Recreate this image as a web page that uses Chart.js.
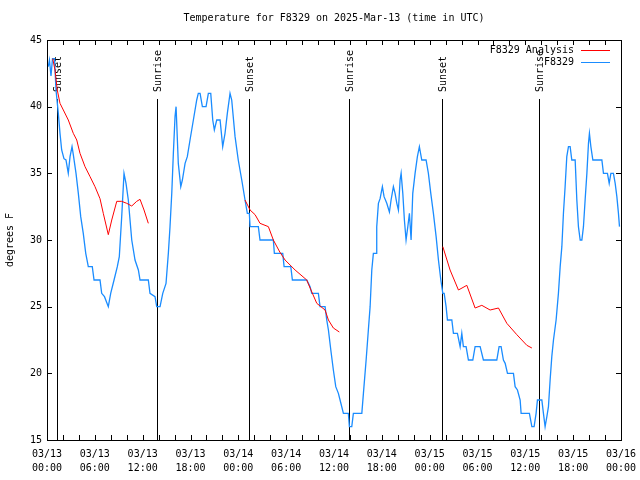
<!DOCTYPE html>
<html>
<head>
<meta charset="utf-8">
<title>Temperature for F8329</title>
<script src="https://cdn.jsdelivr.net/npm/chart.js@4.4.1/dist/chart.umd.min.js"></script>
<style>
  body { margin: 0; background: #fff; }
  canvas { display: block; }
</style>
</head>
<body>
<canvas id="tempChart" width="640" height="480"></canvas>
<script>
// Hours since 03/13 00:00 UTC
const obsHours = [0.16, 0.31, 0.5, 0.69, 0.94, 1.13, 1.42, 1.63, 1.84, 2.13, 2.38, 2.67, 2.89, 3.14, 3.3, 3.64, 3.93, 4.23, 4.55, 4.86,
  5.18, 5.68, 5.9, 6.65, 6.86, 7.21, 7.69, 7.99, 8.41, 8.82, 9.07, 9.37, 9.66, 9.91, 10.2, 10.63, 11.04, 11.46, 11.67, 12.71,
  12.92, 13.55, 13.76, 14.18, 14.52, 14.93, 15.22, 15.43, 15.65, 15.85, 16.06, 16.19, 16.47, 16.78, 16.98, 17.32, 17.6, 17.94, 18.36, 18.78,
  18.98, 19.2, 19.49, 19.95, 20.24, 20.54, 20.79, 20.99, 21.29, 21.71, 22.04, 22.33, 22.62, 22.96, 23.17, 23.59, 23.99, 24.43, 24.84, 25.13,
  25.38, 25.47, 26.51, 26.72, 28.39, 28.52, 29.57, 29.74, 30.58, 30.78, 32.58, 33.0, 33.21, 34.04, 34.25, 34.88, 35.09, 35.3, 35.6, 35.92,
  36.22, 36.55, 36.76, 37.18, 37.8, 37.93, 38.23, 38.43, 39.49, 39.69, 40.03, 40.31, 40.53, 40.74, 40.94, 41.28, 41.36, 41.57, 41.78, 42.07,
  42.28, 42.62, 42.95, 43.16, 43.45, 43.66, 43.88, 44.08, 44.29, 44.42, 44.63, 44.83, 45.04, 45.26, 45.46, 45.67, 45.88, 46.17, 46.46, 46.71,
  47.01, 47.55, 47.84, 48.14, 48.47, 48.81, 49.1, 49.4, 49.65, 49.82, 50.06, 50.23, 50.78, 50.98, 51.48, 51.82, 52.03, 52.23, 52.57, 52.86,
  53.41, 53.7, 54.33, 54.74, 56.42, 56.71, 56.96, 57.25, 57.47, 57.76, 58.51, 58.72, 59.01, 59.35, 59.47, 60.51, 60.82, 61.1, 61.35, 61.52,
  62.07, 62.27, 62.48, 62.7, 62.9, 63.11, 63.32, 63.53, 63.86, 64.15, 64.37, 64.58, 64.78, 64.99, 65.2, 65.41, 65.62, 65.83, 66.25, 66.46,
  66.66, 66.88, 67.09, 67.29, 67.5, 67.72, 67.92, 68.04, 68.22, 68.47, 69.6, 69.8, 70.3, 70.52, 70.73, 71.05, 71.27, 71.48, 71.68, 71.81];
const obsTemps = [43.0, 43.5, 42.3, 43.6, 43.6, 41.25, 39.5, 38, 36.75, 36.1, 36, 35, 36.25, 37, 36.4, 35, 33.5, 31.75, 30.5, 29,
  28, 28, 27, 27, 26, 25.75, 25, 26, 27, 28, 28.75, 31.75, 35, 34.25, 33, 30, 28.5, 27.75, 27, 27,
  26, 25.75, 25, 25, 26, 26.75, 29, 31, 33.5, 36.5, 39.25, 40, 35.75, 34, 34.5, 35.75, 36.25, 37.5, 39, 40.5,
  41, 41, 40, 40, 41, 41, 39, 38.25, 39, 39, 37, 38, 39.5, 41, 40.5, 37.75, 36, 34.5, 33, 32,
  32, 31, 31, 30, 30, 29, 29, 28, 28, 27, 27, 26.5, 26, 26, 25, 25, 24, 23.25, 21.75, 20.25,
  19, 18.5, 18, 17, 17, 16, 16, 17, 17, 18.5, 21, 23.25, 25, 27.75, 29, 29, 31, 32.75, 33.1, 34,
  33.25, 32.75, 32.1, 33, 34, 33.5, 32.75, 32.25, 34.5, 35, 33.5, 31.5, 30, 31, 32, 30, 33.5, 35, 36.25, 37,
  36, 36, 35, 33.5, 32, 30.25, 28.5, 27, 26, 26, 25, 24, 24, 23, 23, 22, 23, 22, 22, 21,
  21, 22, 22, 21, 21, 22, 22, 21, 20.75, 20, 20, 19, 18.75, 18, 17, 17, 16, 16, 17, 18,
  18, 17, 16, 16.75, 17.5, 19.5, 21.25, 22.5, 24, 26, 28, 29.5, 32, 34, 36.25, 37, 37, 36, 36, 33,
  31, 30, 30, 31, 33, 35, 37.25, 38, 37, 36, 36, 35, 35, 34.25, 35, 35, 34.25, 33.25, 32, 31];

// Analysis series, null separates the three runs
const anaHours = [0.72, 1.0, 1.29, 1.63, 2.05, 2.67, 3.3, 3.73, 4.14, 4.77, 5.4, 6.02, 6.65, 7.06, 7.69, 8.12, 8.75, 9.37, 10.0, 10.63,
  11.25, 11.67, 12.17, 12.71, 18,
  24.84, 25.47, 26.1, 26.72, 27.77, 28.39, 29.2, 29.86, 31.12, 32.58, 33.0, 33.84, 34.88, 35.3, 35.92, 36.67, 43,
  49.65, 50.56, 51.61, 52.66, 53.7, 54.54, 55.58, 56.63, 57.68, 58.93, 60.19, 60.82];
const anaTemps = [43.6, 42.75, 41.25, 40.25, 39.75, 39, 38, 37.5, 36.5, 35.5, 34.75, 34, 33.1, 32, 30.4, 31.5, 32.9, 32.9, 32.75, 32.55,
  32.9, 33.05, 32.25, 31.25, null,
  33, 32.25, 31.9, 31.25, 31, 30, 29.1, 28.5, 27.75, 27, 26.4, 25.25, 24.75, 24, 23.4, 23.1, null,
  29.5, 27.75, 26.25, 26.6, 24.9, 25.1, 24.75, 24.9, 23.75, 22.9, 22.1, 21.9];

// Sunset / sunrise markers
const eventHours = [1.3, 13.76, 25.37, 37.85, 49.5, 61.77];
const eventLabels = ['Sunset', 'Sunrise', 'Sunset', 'Sunrise', 'Sunset', 'Sunrise'];

// x labels every 6 hours
const tickLabels = [['03/13', '00:00'], ['03/13', '06:00'], ['03/13', '12:00'], ['03/13', '18:00'],
  ['03/14', '00:00'], ['03/14', '06:00'], ['03/14', '12:00'], ['03/14', '18:00'],
  ['03/15', '00:00'], ['03/15', '06:00'], ['03/15', '12:00'], ['03/15', '18:00'], ['03/16', '00:00']];

const seriesNames = ['F8329 Analysis', 'F8329'];
const chartTitle = 'Temperature for F8329 on 2025-Mar-13 (time in UTC)';
const yTitle = 'degrees F';

const FONT = '10px "DejaVu Sans Mono", "Liberation Mono", monospace';
const RED = '#ff0000';
const BLUE = '#1a8cff';

// gnuplot style frame, inward ticks, title, legend and sun markers
const gnuplotLook = {
    id: 'gnuplotLook',
    beforeDatasetsDraw(chart) {
        const { ctx, chartArea, scales } = chart;
        ctx.save();
        ctx.strokeStyle = '#000';
        ctx.lineWidth = 1;
        ctx.fillStyle = '#000';
        ctx.font = FONT;
        eventHours.forEach((h, i) => {
            const x = Math.round(scales.x.getPixelForValue(h)) + 0.5;
            ctx.beginPath();
            ctx.moveTo(x, chartArea.bottom);
            ctx.lineTo(x, 99);
            ctx.stroke();
            ctx.save();
            ctx.translate(x + 1, 92);
            ctx.rotate(-Math.PI / 2);
            ctx.textAlign = 'left';
            ctx.textBaseline = 'middle';
            ctx.fillText(eventLabels[i], 0, 0);
            ctx.restore();
        });
        ctx.restore();
    },
    afterDraw(chart) {
        const { ctx, chartArea, scales } = chart;
        const { left, right, top, bottom } = chartArea;
        ctx.save();
        ctx.strokeStyle = '#000';
        ctx.lineWidth = 1;
        ctx.strokeRect(left + 0.5, top + 0.5, right - left, bottom - top);

        // inward ticks on all four sides
        ctx.beginPath();
        scales.x.ticks.forEach(t => {
            const x = Math.round(scales.x.getPixelForValue(t.value)) + 0.5;
            ctx.moveTo(x, bottom);
            ctx.lineTo(x, bottom - 5);
            ctx.moveTo(x, top);
            ctx.lineTo(x, top + 5);
        });
        scales.y.ticks.forEach(t => {
            const y = Math.round(scales.y.getPixelForValue(t.value)) + 0.5;
            ctx.moveTo(left, y);
            ctx.lineTo(left + 5, y);
            ctx.moveTo(right, y);
            ctx.lineTo(right - 5, y);
        });
        ctx.stroke();

        ctx.fillStyle = '#000';
        ctx.font = FONT;
        ctx.textAlign = 'center';
        ctx.textBaseline = 'middle';
        ctx.fillText(chartTitle, (left + right) / 2, 18);

        ctx.save();
        ctx.translate(10, (top + bottom) / 2);
        ctx.rotate(-Math.PI / 2);
        ctx.fillText(yTitle, 0, 0);
        ctx.restore();

        // legend, top right inside the frame
        const colors = [RED, BLUE];
        seriesNames.forEach((name, i) => {
            const y = 50 + i * 12;
            ctx.textAlign = 'right';
            ctx.fillStyle = '#000';
            ctx.fillText(name, 574, y);
            ctx.strokeStyle = colors[i];
            ctx.beginPath();
            ctx.moveTo(581, y + 0.5);
            ctx.lineTo(610, y + 0.5);
            ctx.stroke();
        });
        ctx.restore();
    }
};

const ctx = document.getElementById('tempChart').getContext('2d');
const tempChart = new Chart(ctx, {
    type: 'line',
    data: {
        datasets: [{
            label: seriesNames[0],
            data: anaHours.map((h, i) => ({ x: h, y: anaTemps[i] })),
            borderColor: RED,
            borderWidth: 1,
            pointRadius: 0,
            spanGaps: false,
            tension: 0
        }, {
            label: seriesNames[1],
            data: obsHours.map((h, i) => ({ x: h, y: obsTemps[i] })),
            borderColor: BLUE,
            borderWidth: 1.3,
            pointRadius: 0,
            tension: 0
        }]
    },
    options: {
        responsive: false,
        animation: false,
        events: [],
        layout: { padding: { top: 40, right: 19, left: 0, bottom: 0 } },
        plugins: {
            legend: { display: false },
            title: { display: false },
            tooltip: { enabled: false }
        },
        scales: {
            x: {
                type: 'linear',
                min: 0,
                max: 72,
                afterFit(scale) {
                    scale.height = 40;
                    scale.paddingLeft = 0;
                    scale.paddingRight = 0;
                },
                grid: { display: false, drawTicks: false },
                border: { display: false },
                ticks: {
                    stepSize: 2,
                    autoSkip: false,
                    maxRotation: 0,
                    padding: 7,
                    color: '#000',
                    font: { family: '"DejaVu Sans Mono", "Liberation Mono", monospace', size: 10, lineHeight: 1.4 },
                    callback: v => (v % 6 === 0 ? tickLabels[v / 6] : '')
                }
            },
            y: {
                min: 15,
                max: 45,
                afterFit(scale) {
                    scale.width = 47;
                    scale.paddingTop = 0;
                    scale.paddingBottom = 0;
                },
                grid: { display: false, drawTicks: false },
                border: { display: false },
                ticks: {
                    stepSize: 5,
                    padding: 5,
                    color: '#000',
                    font: { family: '"DejaVu Sans Mono", "Liberation Mono", monospace', size: 10 }
                }
            }
        }
    },
    plugins: [gnuplotLook]
});
</script>
</body>
</html>
